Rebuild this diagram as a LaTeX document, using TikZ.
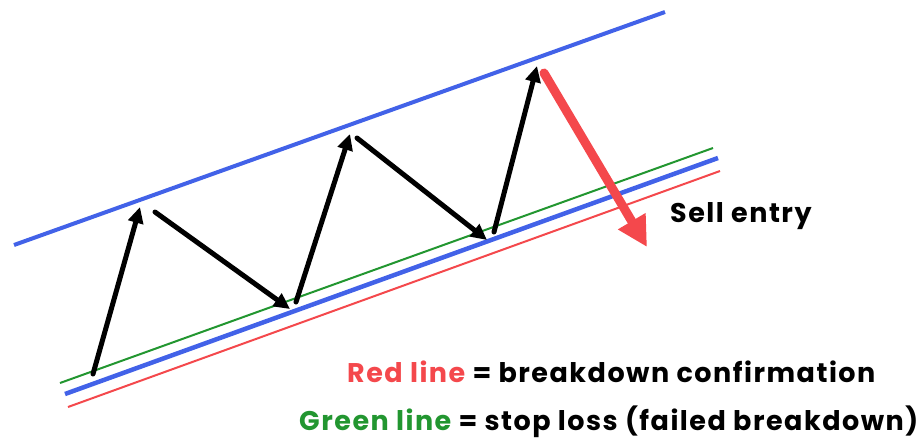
\documentclass[tikz,border=0pt]{standalone}
\usepackage{fontspec}
\setmainfont{Poppins}
\newfontfamily\wideposter[LetterSpace=5.6]{Poppins}
\usepackage{xcolor}
\usetikzlibrary{arrows.meta}

\definecolor{chanblue}{RGB}{66,98,232}
\definecolor{stopgreen}{RGB}{34,150,48}
\definecolor{breakred}{RGB}{244,72,76}

\begin{document}
\begin{tikzpicture}[x=1pt, y=-1pt, >=Stealth,
    zig/.style={->, line width=5pt, line cap=round,
        -{Triangle[length=16pt, width=15pt]}},
    label/.style={font=\wideposter\fontsize{27}{32}\selectfont\bfseries, inner sep=0pt}]
\useasboundingbox (0,0) rectangle (918,445);
% channel
\coordinate (U0) at (14,245);
\coordinate (U1) at (665,12);
\coordinate (L0) at (65,394);
\coordinate (L1) at (718,158);
\coordinate (G0) at (60,383);
\coordinate (G1) at (713,148);
\coordinate (R0) at (68,407);
\coordinate (R1) at (720,171);
\draw[chanblue, line width=4pt] (U0) -- (U1);
\draw[stopgreen, line width=2pt] (G0) -- (G1);
\draw[chanblue, line width=4.5pt] (L0) -- (L1);
\draw[breakred, line width=2pt] (R0) -- (R1);
% swings
\coordinate (s1) at (93,374);  \coordinate (t1) at (140,207);
\coordinate (s2) at (155,212); \coordinate (t2) at (290,309);
\coordinate (s3) at (296,302); \coordinate (t3) at (350,134);
\coordinate (s4) at (357,138); \coordinate (t4) at (487,240);
\coordinate (s5) at (494,232); \coordinate (t5) at (537,66);
\foreach \s/\t in {s1/t1, s2/t2, s3/t3, s4/t4, s5/t5}{
    \draw[zig] (\s) -- (\t);
}
% breakdown
\coordinate (s6) at (544,73);
\coordinate (t6) at (647,247);
\draw[breakred, line width=9pt, line cap=round,
    -{Triangle[length=30pt, width=30pt]}] (s6) -- (t6);
\node[label, anchor=base west] (sell) at (670,222) {Sell entry};
\node[label, anchor=base west] (redtxt) at (347,382)
    {\textcolor{breakred}{Red line} = breakdown confirmation};
\node[label, anchor=base west] (greentxt) at (299,430)
    {\textcolor{stopgreen}{Green line} = stop loss (failed breakdown)};
\end{tikzpicture}
\end{document}
